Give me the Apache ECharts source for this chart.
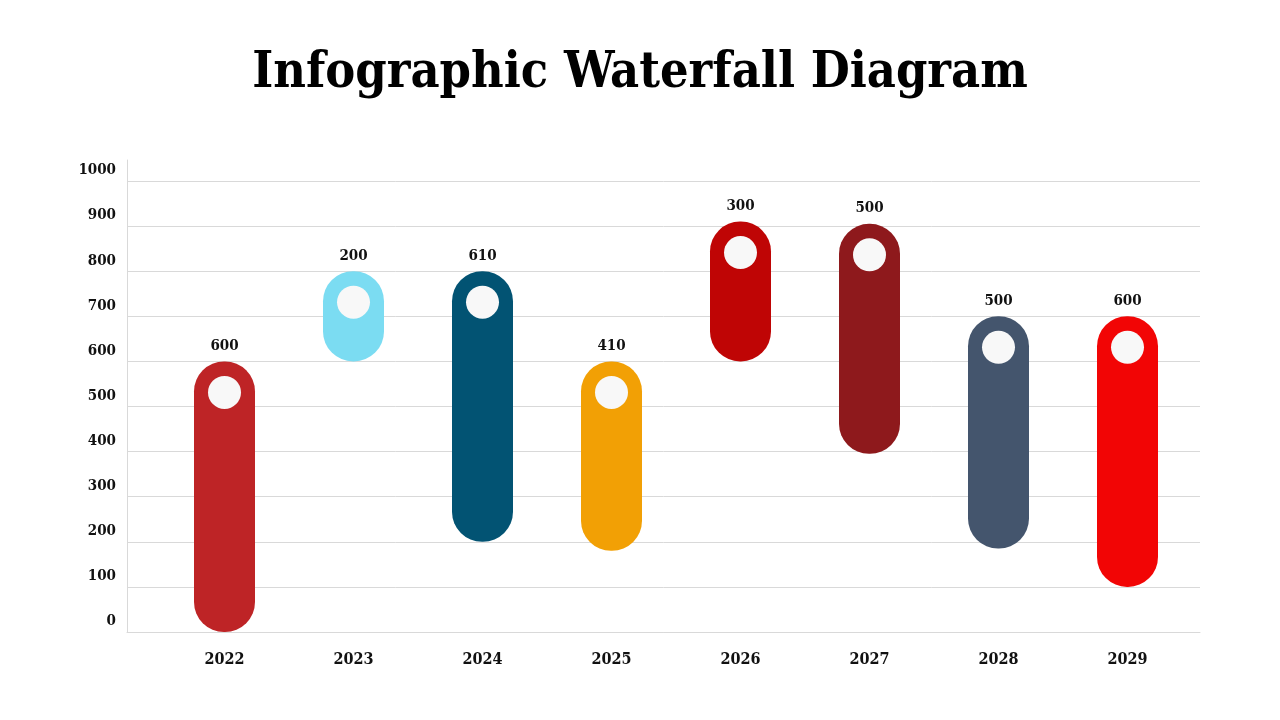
<!DOCTYPE html>
<html>
<head>
<meta charset="utf-8">
<script src="https://cdn.jsdelivr.net/npm/echarts@6/dist/echarts.min.js"></script>
<style>
  html, body { margin: 0; padding: 0; background: #fff; }
  #chartMount { width: 1280px; height: 720px; }
</style>
</head>
<body>
<div id="chartMount"></div>
<script>
  // 数据
  var years = ['2022', '2023', '2024', '2025', '2026', '2027', '2028', '2029'];
  var lowVals = [0, 600, 200, 180, 600, 395, 185, 100];
  var highVals = [600, 800, 800, 600, 910, 905, 700, 700];
  var topLabels = ['600', '200', '610', '410', '300', '500', '500', '600'];
  var barColors = ['#BE2426', '#7BDCF2', '#025373', '#F2A005', '#BF0505', '#8E191C', '#44556D', '#F20505'];

  var serif = '"DejaVu Serif Condensed", "Liberation Serif", serif';
  var app = echarts.init(document.getElementById('chartMount'));

  // 差值做堆叠
  var spans = [];
  for (var i = 0; i < years.length; i++) {
    spans.push({ value: highVals[i] - lowVals[i], itemStyle: { color: barColors[i] } });
  }

  var option = {
    backgroundColor: '#ffffff',
    title: {
      text: 'Infographic Waterfall Diagram',
      left: 'center',
      top: 44,
      textStyle: { fontFamily: serif, fontWeight: 'bold', fontSize: 50, color: '#000' }
    },
    grid: [
      { left: 127, right: 80, top: 160, bottom: 88 },
      { left: 127, right: 80, top: 181, bottom: 88 },
      { left: 160, right: 88, top: 181, bottom: 88 }
    ],
    xAxis: [
      { gridIndex: 0, type: 'category', show: false, data: years },
      {
        gridIndex: 1, type: 'category', data: years,
        axisLine: { lineStyle: { color: '#D9D9D9', width: 1 } },
        axisTick: { show: false }, axisLabel: { show: false }
      },
      {
        gridIndex: 2, type: 'category', data: years,
        axisLine: { show: false }, axisTick: { show: false },
        axisLabel: { margin: 20, fontFamily: serif, fontWeight: 'bold', fontSize: 16, color: '#111' }
      }
    ],
    yAxis: [
      {
        gridIndex: 0, type: 'value', min: 0, max: 1000,
        axisLine: { show: true, lineStyle: { color: '#D9D9D9', width: 1 } },
        axisTick: { show: false }, axisLabel: { show: false }, splitLine: { show: false }
      },
      {
        gridIndex: 1, type: 'value', min: 0, max: 1000, interval: 100,
        axisLine: { show: false }, axisTick: { show: false },
        splitLine: { lineStyle: { color: '#D9D9D9', width: 1 } },
        axisLabel: {
          margin: 11, verticalAlign: 'bottom', padding: [0, 0, 3, 0],
          fontFamily: serif, fontWeight: 'bold', fontSize: 15, color: '#111',
          formatter: function (v) { return String(v); }
        }
      },
      { gridIndex: 2, type: 'value', min: 0, max: 1000, show: false }
    ],
    series: [
      {
        type: 'bar', xAxisIndex: 2, yAxisIndex: 2, stack: 'w',
        barWidth: 61, silent: true,
        itemStyle: { color: 'transparent' },
        data: lowVals
      },
      {
        type: 'bar', xAxisIndex: 2, yAxisIndex: 2, stack: 'w',
        barWidth: 61,
        itemStyle: { borderRadius: 30 },
        label: {
          show: true, position: 'top', distance: 8,
          fontFamily: serif, fontWeight: 'bold', fontSize: 15, color: '#111',
          formatter: function (p) { return topLabels[p.dataIndex]; }
        },
        data: spans
      },
      {
        type: 'scatter', xAxisIndex: 2, yAxisIndex: 2,
        symbol: 'circle', symbolSize: 33, symbolOffset: [0, 31],
        itemStyle: { color: '#F8F8F8', opacity: 1 },
        z: 5,
        data: highVals
      }
    ]
  };

  app.setOption(option);
</script>
</body>
</html>
